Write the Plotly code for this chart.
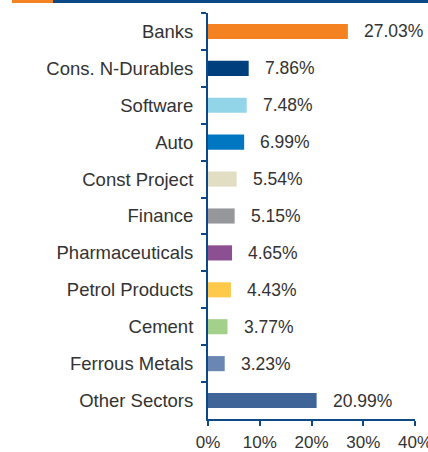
import plotly.graph_objects as go

sectors = ["Banks", "Cons. N-Durables", "Software", "Auto", "Const Project", "Finance",
           "Pharmaceuticals", "Petrol Products", "Cement", "Ferrous Metals", "Other Sectors"]
weights = [27.03, 7.86, 7.48, 6.99, 5.54, 5.15, 4.65, 4.43, 3.77, 3.23, 20.99]
bar_colors = ["#F58220", "#003F7D", "#92D5E8", "#0077C0", "#E2DEC4", "#96979A",
              "#8C4F91", "#FFC94C", "#A3D18C", "#6A87B4", "#3F6498"]
x_ticks = [0, 10, 20, 30, 40]

axis_blue = "#0B4A86"

# plot area: x 208..415, y 13..419
L, R, T, B = 208, 13, 13, 33
PW, PH = 428 - L - R, 452 - T - B

fig = go.Figure()

fig.add_trace(go.Bar(
    y=sectors,
    x=weights,
    orientation="h",
    marker=dict(color=bar_colors, line=dict(width=0)),
    width=0.41,
    hoverinfo="skip",
))

annotations = []
for s, w in zip(sectors, weights):
    annotations.append(dict(
        x=w, y=s, xref="x", yref="y",
        text=f"{w:.2f}%",
        showarrow=False,
        xanchor="left",
        xshift=14,
        font=dict(family="Arial", size=17.5, color="#333333"),
    ))

fig.update_layout(
    width=428,
    height=452,
    margin=dict(l=L, r=R, t=T, b=B, autoexpand=False),
    plot_bgcolor="white",
    paper_bgcolor="white",
    showlegend=False,
    font=dict(family="Arial", size=17, color="#333333"),
    annotations=annotations,
    shapes=[
        dict(type="rect", xref="paper", yref="paper",
             x0=(12 - L) / PW, x1=(53 - L) / PW,
             y0=1 + (T - 3) / PH, y1=1 + T / PH,
             fillcolor="#F58220", line=dict(width=0)),
        dict(type="rect", xref="paper", yref="paper",
             x0=(53 - L) / PW, x1=(428 - L) / PW,
             y0=1 + (T - 3) / PH, y1=1 + T / PH,
             fillcolor=axis_blue, line=dict(width=0)),
    ],
    xaxis=dict(
        range=[0, 40],
        tickvals=x_ticks,
        ticktext=[f"{t}%" for t in x_ticks],
        showline=True,
        linecolor=axis_blue,
        linewidth=2,
        ticks="outside",
        ticklen=5,
        tickwidth=2,
        tickcolor=axis_blue,
        ticklabelstandoff=2,
        ticklabeloverflow="allow",
        showgrid=False,
        zeroline=False,
        automargin=False,
        tickfont=dict(family="Arial", size=17, color="#333333"),
    ),
    yaxis=dict(
        autorange="reversed",
        showline=True,
        linecolor=axis_blue,
        linewidth=2,
        ticks="outside",
        tickson="boundaries",
        ticklen=5,
        tickwidth=2,
        tickcolor=axis_blue,
        ticklabelstandoff=9,
        showgrid=False,
        automargin=False,
        tickfont=dict(family="Arial", size=18.5, color="#333333"),
    ),
)

fig.write_html("out.html", config={"displayModeBar": False},
               post_script="document.body.style.margin='0';")
